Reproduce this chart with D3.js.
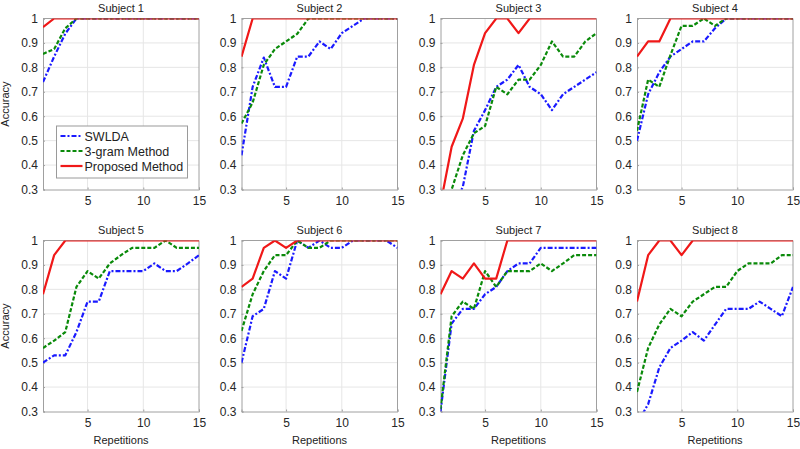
<!DOCTYPE html>
<html><head><meta charset="utf-8">
<script src="https://cdn.jsdelivr.net/npm/d3@7"></script>
<style>body{margin:0;background:#fff}svg{display:block;font-family:"Liberation Sans",Arial,sans-serif}</style>
</head><body><svg id="c" width="800" height="449"></svg>
<script>
const reps = d3.range(1, 16);
const subjects = ["Subject 1","Subject 2","Subject 3","Subject 4","Subject 5","Subject 6","Subject 7","Subject 8"];
const seriesNames = ["SWLDA","3-gram Method","Proposed Method"];
const yTicks = [0.3,0.4,0.5,0.6,0.7,0.8,0.9,1];
const xTicks = [5,10,15];

const swlda = [
  [0.74,0.844,0.938,1,1,1,1,1,1,1,1,1,1,1,1],
  [0.44,0.72,0.84,0.72,0.72,0.844,0.844,0.906,0.875,0.94,0.97,1,1,1,1],
  [0.16,0.22,0.31,0.54,0.625,0.72,0.75,0.81,0.72,0.69,0.625,0.69,0.72,0.75,0.78],
  [0.5,0.69,0.78,0.844,0.875,0.906,0.906,0.96,1,1,1,1,1,1,1],
  [0.5,0.53,0.53,0.625,0.75,0.75,0.875,0.875,0.875,0.875,0.906,0.875,0.875,0.906,0.94],
  [0.5,0.69,0.72,0.875,0.844,1,0.97,1,0.97,0.97,1,1,1,1,0.97],
  [0.3,0.66,0.72,0.72,0.78,0.81,0.875,0.906,0.906,0.97,0.97,0.97,0.97,0.97,0.97],
  [0.25,0.33,0.48,0.56,0.59,0.625,0.59,0.656,0.72,0.72,0.72,0.75,0.72,0.69,0.81]
];
const trigram = [
  [0.855,0.875,0.96,1,1,1,1,1,1,1,1,1,1,1,1],
  [0.57,0.656,0.81,0.875,0.906,0.937,1,1,1,1,1,1,1,1,1],
  [0.19,0.3,0.44,0.53,0.56,0.72,0.69,0.75,0.75,0.81,0.906,0.844,0.844,0.906,0.94],
  [0.54,0.75,0.72,0.85,0.97,0.97,1,0.97,1,1,1,1,1,1,1],
  [0.56,0.59,0.625,0.81,0.875,0.844,0.906,0.94,0.97,0.97,0.97,1,0.97,0.97,0.97],
  [0.63,0.78,0.875,0.94,0.94,1,0.97,0.97,1,1,1,1,1,1,1],
  [0.31,0.69,0.75,0.72,0.875,0.81,0.875,0.875,0.875,0.906,0.875,0.906,0.94,0.94,0.94],
  [0.38,0.56,0.656,0.72,0.69,0.75,0.78,0.81,0.81,0.875,0.906,0.906,0.906,0.94,0.94]
];
const proposed = [
  [0.965,1,1,1,1,1,1,1,1,1,1,1,1,1,1],
  [0.844,1,1,1,1,1,1,1,1,1,1,1,1,1,1],
  [0.24,0.475,0.59,0.81,0.94,1,1,0.94,1,1,1,1,1,1,1],
  [0.844,0.906,0.906,1,1,1,1,1,1,1,1,1,1,1,1],
  [0.78,0.94,1,1,1,1,1,1,1,1,1,1,1,1,1],
  [0.81,0.844,0.97,1,0.97,1,1,1,1,1,1,1,1,1,1],
  [0.78,0.875,0.844,0.906,0.844,0.844,1,1,1,1,1,1,1,1,1],
  [0.75,0.94,1,1,0.94,1,1,1,1,1,1,1,1,1,1]
];

const colors = ["#1a1aff","#0a8a0a","#f01818"];
const dashes = ["5,2,2,2","4,2",null];
const allSeries = [swlda, trigram, proposed];

const svg = d3.select("#c");
const colLeft = [43, 241.5, 440.5, 637];
const rowTop = [18.5, 240.5];
const W = 156, H = 171;

svg.append("defs").selectAll("clipPath").data(subjects).join("clipPath")
  .attr("id",(d,i)=>"clip"+i)
  .append("rect").attr("x",0).attr("y",0).attr("width",W).attr("height",H);

subjects.forEach((name, i) => {
  const r = Math.floor(i/4), c = i%4;
  const g = svg.append("g").attr("transform",`translate(${colLeft[c]},${rowTop[r]})`);
  const x = d3.scaleLinear().domain([1,15]).range([0,W]);
  const y = d3.scaleLinear().domain([0.3,1]).range([H,0]);

  // grid
  g.append("g").selectAll("line").data(yTicks.slice(1,-1)).join("line")
    .attr("x1",0).attr("x2",W).attr("y1",d=>y(d)).attr("y2",d=>y(d))
    .attr("stroke","#e6e6e6").attr("stroke-width",1);
  g.append("g").selectAll("line").data(xTicks.slice(0,-1)).join("line")
    .attr("y1",0).attr("y2",H).attr("x1",d=>x(d)).attr("x2",d=>x(d))
    .attr("stroke","#e6e6e6").attr("stroke-width",1);

  // axes
  const ax = g.append("g").attr("transform",`translate(0,${H})`)
    .call(d3.axisBottom(x).tickValues(xTicks).tickSize(-2).tickPadding(7).tickFormat(d3.format("d")));
  const ay = g.append("g")
    .call(d3.axisLeft(y).tickValues(yTicks).tickSize(-2).tickPadding(5).tickFormat(d=>d===1?"1":d3.format(".1f")(d)));
  [ax,ay].forEach(a=>{
    a.selectAll("path,line").attr("stroke","#a0a0a0");
    a.selectAll("text").attr("font-size",12).attr("fill","#262626").attr("font-family","Liberation Sans, Arial, sans-serif");
  });
  g.append("line").attr("x1",W).attr("x2",W).attr("y1",0).attr("y2",H).attr("stroke","#a0a0a0");
  g.append("line").attr("x1",0).attr("x2",W).attr("y1",0).attr("y2",0).attr("stroke","#a0a0a0");

  // lines
  const lineGen = d3.line().x((d,k)=>x(reps[k])).y(d=>y(d));
  const lg = g.append("g").attr("clip-path",`url(#clip${i})`);
  allSeries.forEach((s, k) => {
    lg.append("path").datum(s[i]).attr("d",lineGen)
      .attr("fill","none").attr("stroke",colors[k]).attr("stroke-width",2.2)
      .attr("stroke-dasharray",dashes[k]).attr("stroke-linejoin","round");
  });

  // title
  g.append("text").attr("x",W/2).attr("y",-7).attr("text-anchor","middle")
    .attr("font-size",11).attr("fill","#222").text(name);
  if (c===0) {
    g.append("text").attr("transform",`translate(-34,${H/2}) rotate(-90)`)
      .attr("text-anchor","middle").attr("font-size",11).attr("fill","#222").text("Accuracy");
  }
  if (r===1) {
    g.append("text").attr("x",W/2).attr("y",H+32).attr("text-anchor","middle")
      .attr("font-size",11).attr("fill","#222").text("Repetitions");
  }

  // legend
  if (i===0) {
    const lgd = g.append("g").attr("transform","translate(13.5,107.5)");
    lgd.append("rect").attr("width",131).attr("height",52).attr("fill","#fff").attr("stroke","#9a9a9a").attr("stroke-width",1);
    seriesNames.forEach((n,k)=>{
      const yy = 10 + k*15;
      lgd.append("line").attr("x1",4).attr("x2",26).attr("y1",yy).attr("y2",yy)
        .attr("stroke",colors[k]).attr("stroke-width",2.2).attr("stroke-dasharray",dashes[k]);
      lgd.append("text").attr("x",28).attr("y",yy+4.5).attr("font-size",12.5).attr("fill","#222").text(n);
    });
  }
});
</script></body></html>
